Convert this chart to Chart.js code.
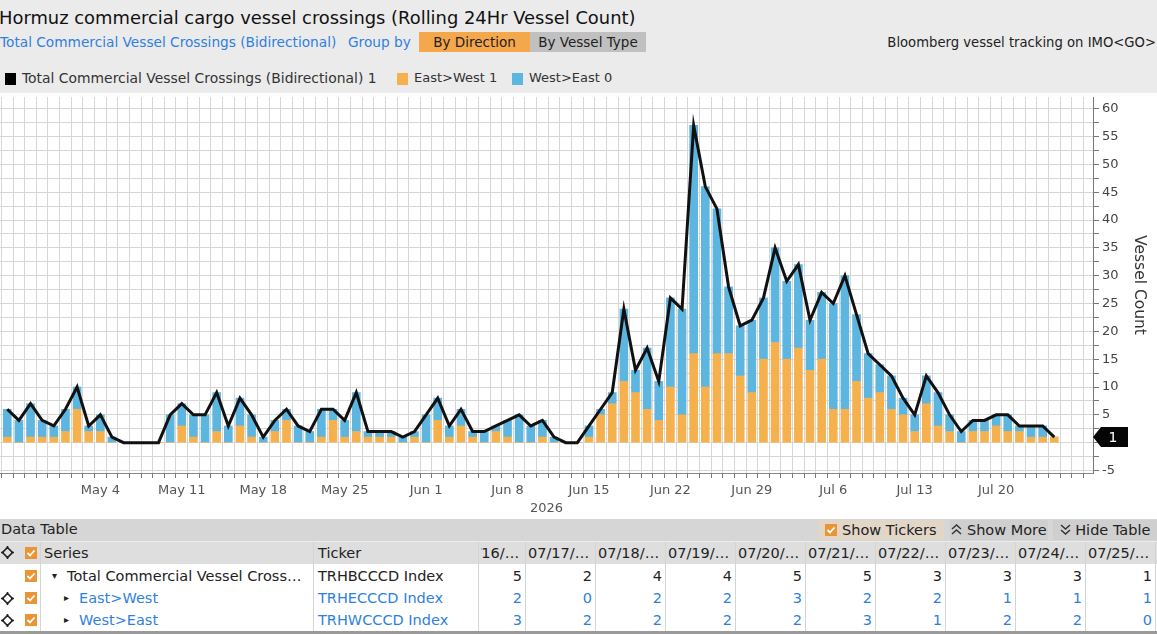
<!DOCTYPE html>
<html>
<head>
<meta charset="utf-8">
<script src="https://cdn.jsdelivr.net/npm/chart.js@4.4.1/dist/chart.umd.min.js"></script>
<style>
  body { margin: 0; width: 1157px; height: 634px; overflow: hidden; position: relative;
         background: #ebebeb; font-family: "DejaVu Sans", Verdana, sans-serif; color: #222; }
  .abs { position: absolute; white-space: nowrap; }
  .btn { position: absolute; height: 20px; line-height: 20px; text-align: center; font-size: 13.5px; color: #222; }
  .sq { position: absolute; width: 11px; height: 12px; }
  #plotBg { position: absolute; left: 0; top: 93px; width: 1157px; height: 426px; background: #fff; }
  #chartWrap { position: absolute; left: 0; top: 95px; }
  #tableBar { position: absolute; left: 0; top: 519px; width: 1157px; height: 22px; background: #d6d6d6; }
  #table { position: absolute; left: 0; top: 542px; width: 1157px; height: 92px; background: #fff; }
  .cell { position: absolute; white-space: nowrap; font-size: 14.5px; line-height: 22px; height: 22px; }
  .blue { color: #2f7fe0; }
</style>
</head>
<body>

<div class="abs" style="left:-1px; top:7px; font-size:17.9px; color:#111;">Hormuz commercial cargo vessel crossings (Rolling 24Hr Vessel Count)</div>
<div class="abs blue" style="left:0; top:34px; font-size:13.7px;">Total Commercial Vessel Crossings (Bidirectional)</div>
<div class="abs blue" style="left:348px; top:34px; font-size:13.7px;">Group by</div>
<div class="btn" style="left:419px; top:32px; width:111px; background:#f5a74b;">By Direction</div>
<div class="btn" style="left:530px; top:32px; width:116px; background:#c0c0c0;">By Vessel Type</div>
<div class="abs" style="right:1px; top:35px; font-size:13.2px; color:#222;">Bloomberg vessel tracking on IMO&lt;GO&gt;</div>

<div id="legend"></div>

<div id="plotBg"></div>
<div id="chartWrap"><canvas id="vesselChart" width="1157" height="423"></canvas></div>

<div id="tableBar">
  <div class="abs" style="left:1px; top:2px; font-size:14.5px;">Data Table</div>
  <div class="btn" style="left:818px; top:1px; width:126px; background:#e2d6c8; font-size:14.5px;">
    <svg width="12" height="12" style="vertical-align:-1px"><rect width="12" height="12" fill="#ea9535"/><path d="M2.5 6 L5 8.5 L9.5 3.5" stroke="#fff" stroke-width="1.8" fill="none"/></svg> Show Tickers</div>
  <div class="btn" style="left:950px; top:1px; width:98px; background:#cfcfcf; font-size:14.5px;">
    <svg width="11" height="11" style="vertical-align:0px"><path d="M1 5 L5.5 1 L10 5 M1 10 L5.5 6 L10 10" stroke="#333" stroke-width="1.5" fill="none"/></svg> Show More</div>
  <div class="btn" style="left:1053px; top:1px; width:104px; background:#cfcfcf; font-size:14.5px;">
    <svg width="11" height="11" style="vertical-align:0px"><path d="M1 1 L5.5 5 L10 1 M1 6 L5.5 10 L10 6" stroke="#333" stroke-width="1.5" fill="none"/></svg> Hide Table</div>
</div>
<div id="table"></div>

<script>
// Daily dates on the x axis (2026)
const dates = [
  'Apr 26', 'Apr 27', 'Apr 28', 'Apr 29', 'Apr 30',
  'May 1', 'May 2', 'May 3', 'May 4', 'May 5', 'May 6', 'May 7', 'May 8', 'May 9', 'May 10',
  'May 11', 'May 12', 'May 13', 'May 14', 'May 15', 'May 16', 'May 17', 'May 18', 'May 19', 'May 20',
  'May 21', 'May 22', 'May 23', 'May 24', 'May 25', 'May 26', 'May 27', 'May 28', 'May 29', 'May 30', 'May 31',
  'Jun 1', 'Jun 2', 'Jun 3', 'Jun 4', 'Jun 5', 'Jun 6', 'Jun 7', 'Jun 8', 'Jun 9', 'Jun 10',
  'Jun 11', 'Jun 12', 'Jun 13', 'Jun 14', 'Jun 15', 'Jun 16', 'Jun 17', 'Jun 18', 'Jun 19', 'Jun 20',
  'Jun 21', 'Jun 22', 'Jun 23', 'Jun 24', 'Jun 25', 'Jun 26', 'Jun 27', 'Jun 28', 'Jun 29', 'Jun 30',
  'Jul 1', 'Jul 2', 'Jul 3', 'Jul 4', 'Jul 5', 'Jul 6', 'Jul 7', 'Jul 8', 'Jul 9', 'Jul 10',
  'Jul 11', 'Jul 12', 'Jul 13', 'Jul 14', 'Jul 15', 'Jul 16', 'Jul 17', 'Jul 18', 'Jul 19', 'Jul 20',
  'Jul 21', 'Jul 22', 'Jul 23', 'Jul 24', 'Jul 25'
];

// Labelled weeks on the x axis
const weekTicks = ['May 4', 'May 11', 'May 18', 'May 25', 'Jun 1', 'Jun 8', 'Jun 15', 'Jun 22', 'Jun 29', 'Jul 6', 'Jul 13', 'Jul 20'];

// Total Commercial Vessel Crossings (Bidirectional)
const totals = [
  6, 4, 7, 4, 3,
  6, 10, 3, 5, 1, 0, 0, 0, 0, 5,
  7, 5, 5, 9, 3, 8, 5, 1, 4, 6,
  3, 2, 6, 6, 4, 9, 2, 2, 2, 1, 2,
  5, 8, 3, 6, 2, 2, 3, 4, 5, 3,
  4, 1, 0, 0, 3, 6, 9, 24, 13, 17,
  11, 26, 24, 57, 46, 42, 28, 21, 22, 26,
  35, 29, 32, 22, 27, 25, 30, 23, 16, 14,
  12, 8, 5, 12, 9, 5, 2, 4, 4, 5,
  5, 3, 3, 3, 1
];

// East>West
const eastWest = [
  1, 0, 1, 1, 1,
  2, 6, 2, 2, 0, 0, 0, 0, 0, 0,
  3, 1, 0, 2, 0, 3, 1, 0, 2, 4,
  0, 0, 1, 4, 1, 2, 1, 1, 1, 0, 1,
  0, 4, 1, 3, 1, 0, 2, 1, 0, 0,
  1, 0, 0, 0, 1, 5, 7, 11, 9, 6,
  4, 10, 5, 16, 10, 16, 16, 12, 9, 15,
  18, 15, 17, 13, 15, 6, 6, 11, 8, 9,
  6, 5, 2, 7, 3, 2, 0, 2, 2, 3,
  2, 2, 1, 1, 1
];

// West>East
const westEast = [
  5, 4, 6, 3, 2,
  4, 4, 1, 3, 1, 0, 0, 0, 0, 5,
  4, 4, 5, 7, 3, 5, 4, 1, 2, 2,
  3, 2, 5, 2, 3, 7, 1, 1, 1, 1, 1,
  5, 4, 2, 3, 1, 2, 1, 3, 5, 3,
  3, 1, 0, 0, 2, 1, 2, 13, 4, 11,
  7, 16, 19, 41, 36, 26, 12, 9, 13, 11,
  17, 14, 15, 9, 12, 19, 24, 12, 8, 5,
  6, 3, 3, 5, 6, 3, 2, 2, 2, 2,
  3, 1, 2, 2, 0
];

// Data table columns (last ten days)
const tableDates = ['07/16/…', '07/17/…', '07/18/…', '07/19/…', '07/20/…', '07/21/…', '07/22/…', '07/23/…', '07/24/…', '07/25/…'];
const seriesNames = ['Total Commercial Vessel Crossings (Bidirectional)', 'East>West', 'West>East'];
const tickers = ['TRHBCCCD Index', 'TRHECCCD Index', 'TRHWCCCD Index'];

const ORANGE = '#f6b14f';
const BLUE = '#5cb6df';
const FONT = '"DejaVu Sans", Verdana, sans-serif';

function toPoints(values) {
    return values.map((v, i) => ({ x: i, y: v }));
}

function esc(s) {
    return s.replace(/&/g, '&amp;').replace(/</g, '&lt;').replace(/>/g, '&gt;');
}

function buildLegend() {
    const items = [
        { color: '#000', text: seriesNames[0] + ' ' + totals[totals.length - 1], left: 5, size: 13.9 },
        { color: ORANGE, text: seriesNames[1] + ' ' + eastWest[eastWest.length - 1], left: 397, size: 13 },
        { color: BLUE, text: seriesNames[2] + ' ' + westEast[westEast.length - 1], left: 512, size: 13 }
    ];
    document.getElementById('legend').innerHTML = items.map(it => `
        <div class="sq" style="left:${it.left}px; top:73px; background:${it.color};"></div>
        <div class="abs" style="left:${it.left + 17}px; top:70px; font-size:${it.size}px; color:#333;">${esc(it.text)}</div>
    `).join('');
}

function crossIcon(x, y) {
    return `<svg class="abs" style="left:${x}px; top:${y}px;" width="13" height="13">
        <path d="M6.5 1.5 L11.5 6.5 L6.5 11.5 L1.5 6.5 Z" fill="none" stroke="#222" stroke-width="1.6"/>
        <path d="M6.5 0 V3 M6.5 10 V13 M0 6.5 H3 M10 6.5 H13" stroke="#222" stroke-width="1.6"/></svg>`;
}

function checkIcon(x, y) {
    return `<svg class="abs" style="left:${x}px; top:${y}px;" width="12" height="12">
        <rect width="12" height="12" fill="#ea9535"/>
        <path d="M2.5 6 L5 8.5 L9.5 3.5" stroke="#fff" stroke-width="1.8" fill="none"/></svg>`;
}

function buildTable() {
    const n = totals.length;
    const rows = [
        { values: totals.slice(n - 10), cls: '', icon: false, arrow: '&#9662;', indent: 52 },
        { values: eastWest.slice(n - 10), cls: 'blue', icon: true, arrow: '&#9656;', indent: 64 },
        { values: westEast.slice(n - 10), cls: 'blue', icon: true, arrow: '&#9656;', indent: 64 }
    ];
    const colRight = k => 525 + 70 * k;   // right edge of each date column
    const clipLeft = 481;
    let html = '';

    // header row
    html += `<div class="abs" style="left:0; top:0; width:1157px; height:22px; background:#dedede;"></div>`;
    html += crossIcon(1, 4) + checkIcon(25, 5);
    html += `<div class="cell" style="left:44px; top:0;">Series</div>`;
    html += `<div class="cell" style="left:318px; top:0;">Ticker</div>`;
    html += `<div class="abs" style="left:${clipLeft}px; top:0; width:${1157 - clipLeft}px; height:92px; overflow:hidden;">`;
    tableDates.forEach((d, k) => {
        html += `<div class="cell" style="left:${colRight(k) - 70 + 3 - clipLeft}px; top:0;">${d}</div>`;
        html += `<div class="abs" style="left:${colRight(k) - clipLeft}px; top:0; width:1px; height:92px; background:#d4d4d4;"></div>`;
    });
    html += `</div>`;
    [40, 313, 478].forEach(x => {
        html += `<div class="abs" style="left:${x}px; top:0; width:1px; height:92px; background:#d4d4d4;"></div>`;
    });

    // body rows
    rows.forEach((r, i) => {
        const top = 23 + i * 22;
        if (r.icon) html += crossIcon(1, top + 5);
        html += checkIcon(25, top + 5);
        html += `<div class="cell ${r.cls}" style="left:${r.indent}px; top:${top}px; font-size:10px; color:#222;">${r.arrow}</div>`;
        const name = i === 0 ? 'Total Commercial Vessel Cross…' : esc(seriesNames[i]);
        html += `<div class="cell ${r.cls}" style="left:${r.indent + 15}px; top:${top}px;">${name}</div>`;
        html += `<div class="cell ${r.cls}" style="left:318px; top:${top}px;">${tickers[i]}</div>`;
        r.values.forEach((v, k) => {
            html += `<div class="cell ${r.cls}" style="left:${colRight(k) - 60}px; width:57px; text-align:right; top:${top}px;">${v}</div>`;
        });
    });
    html += `<div class="abs" style="left:0; top:89px; width:1157px; height:3px; background:#9a9a9a;"></div>`;
    document.getElementById('table').innerHTML = html;
}

// black badge with the latest total on the value axis
const lastValueBadge = {
    id: 'lastValueBadge',
    afterDraw(chart) {
        const v = totals[totals.length - 1];
        const y = chart.scales.y.getPixelForValue(v);
        const x = chart.chartArea.right;
        const ctx = chart.ctx;
        ctx.save();
        ctx.fillStyle = '#050505';
        ctx.beginPath();
        ctx.moveTo(x, y);
        ctx.lineTo(x + 8, y - 10);
        ctx.lineTo(x + 35, y - 10);
        ctx.lineTo(x + 35, y + 10);
        ctx.lineTo(x + 8, y + 10);
        ctx.closePath();
        ctx.fill();
        ctx.fillStyle = '#fff';
        ctx.font = '14px ' + FONT;
        ctx.textAlign = 'center';
        ctx.textBaseline = 'middle';
        ctx.fillText(String(v), x + 20, y + 1);
        ctx.restore();
    }
};

function createVesselChart() {
    Chart.defaults.font.family = FONT;
    const ctx = document.getElementById('vesselChart').getContext('2d');
    new Chart(ctx, {
        type: 'bar',
        data: {
            datasets: [
                {
                    type: 'line',
                    label: seriesNames[0],
                    data: toPoints(totals),
                    borderColor: '#111',
                    borderWidth: 3,
                    pointRadius: 0,
                    tension: 0,
                    stack: 'total',
                    order: 0
                },
                {
                    label: seriesNames[1],
                    data: toPoints(eastWest),
                    backgroundColor: ORANGE,
                    barThickness: 8,
                    stack: 'direction',
                    order: 1
                },
                {
                    label: seriesNames[2],
                    data: toPoints(westEast),
                    backgroundColor: BLUE,
                    barThickness: 8,
                    stack: 'direction',
                    order: 1
                }
            ]
        },
        options: {
            responsive: false,
            animation: false,
            layout: { padding: { top: 2, left: 0, right: 0, bottom: 0 } },
            plugins: {
                legend: { display: false },
                tooltip: { enabled: false }
            },
            scales: {
                x: {
                    type: 'linear',
                    stacked: true,
                    min: -0.12,
                    max: 92.82,
                    afterFit(s) { s.height = 45; s.paddingLeft = 0; s.paddingRight = 0; },
                    grid: { color: '#d6d6d6', tickLength: 5, tickColor: '#777' },
                    border: { color: '#888' },
                    ticks: {
                        stepSize: 1,
                        autoSkip: false,
                        maxRotation: 0,
                        includeBounds: false,
                        padding: 5,
                        color: '#555',
                        font: { size: 13 },
                        callback: v => {
                            const d = dates[Math.round(v)];
                            return weekTicks.includes(d) ? d : '';
                        }
                    },
                    title: {
                        display: true,
                        text: '2026',
                        color: '#555',
                        padding: { top: 0, bottom: 2 },
                        font: { size: 13 }
                    }
                },
                y: {
                    position: 'right',
                    stacked: true,
                    min: -5.45,
                    max: 62.1,
                    afterFit(s) { s.width = 64; s.paddingTop = 0; s.paddingBottom = 0; },
                    grid: { color: '#d6d6d6', tickLength: 6, tickColor: '#777' },
                    border: { color: '#777' },
                    ticks: {
                        stepSize: 2.5,
                        autoSkip: false,
                        includeBounds: false,
                        padding: 3,
                        color: '#444',
                        font: { size: 13 },
                        callback: v => (Math.abs(v % 5) < 1e-6 ? String(Math.round(v)) : '')
                    },
                    title: {
                        display: true,
                        text: 'Vessel Count',
                        color: '#333',
                        padding: { top: 9, bottom: 0 },
                        font: { size: 15.5 }
                    }
                }
            }
        },
        plugins: [lastValueBadge]
    });
}

buildLegend();
buildTable();
createVesselChart();
</script>
</body>
</html>
